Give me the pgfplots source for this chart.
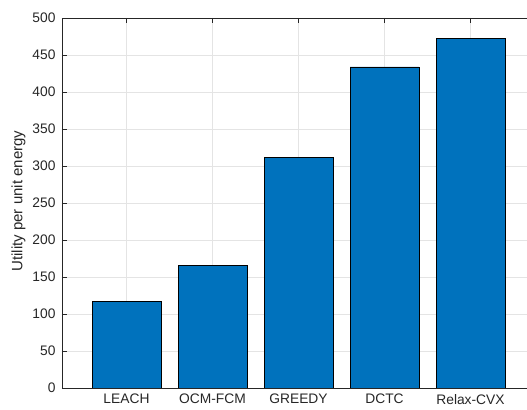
\documentclass[border=0pt]{standalone}
\usepackage{fontspec}
\setmainfont{Liberation Sans}
\usepackage{pgfplots}
\pgfplotsset{compat=1.18}
\definecolor{barblue}{RGB}{0,114,189}
\definecolor{axgray}{RGB}{38,38,38}
\definecolor{gridgray}{RGB}{228,228,228}
\begin{document}
\begin{tikzpicture}
\begin{axis}[
  scale only axis, width=473pt, height=370pt,
  ybar, bar width=0.8,
  xmin=0.25, xmax=5.75, ymin=0, ymax=500,
  xtick={1,2,3,4,5},
  xticklabels={LEACH,OCM-FCM,GREEDY,DCTC,Relax-CVX},
  ytick={0,50,...,500},
  grid=major,
  major grid style={draw=gridgray, line width=0.6pt},
  tick align=inside, major tick length=5pt,
  axis line style={axgray, line width=0.7pt},
  tick style={axgray, line width=0.6pt},
  ticklabel style={font=\fontsize{13.8}{15}\selectfont, text=axgray},
  xticklabel style={yshift=-5pt, inner sep=1pt},
  yticklabel style={xshift=-3pt},
  /pgf/number format/assume math mode=true,
  ylabel={Utility per unit energy},
  ylabel style={font=\fontsize{15}{17}\selectfont, text=axgray,
    at={(axis description cs:-0.092,0.505)}, anchor=center},
]
\addplot[fill=barblue, draw=black, line width=0.6pt]
  coordinates {(1,117) (2,166) (3,312) (4,434) (5,472)};
\end{axis}
\pgfresetboundingbox
\path[use as bounding box]
  ([xshift=-62pt,yshift=-21.7pt]current axis.south west)
  rectangle ([xshift=465pt,yshift=18pt]current axis.north west);
\end{tikzpicture}
\end{document}
